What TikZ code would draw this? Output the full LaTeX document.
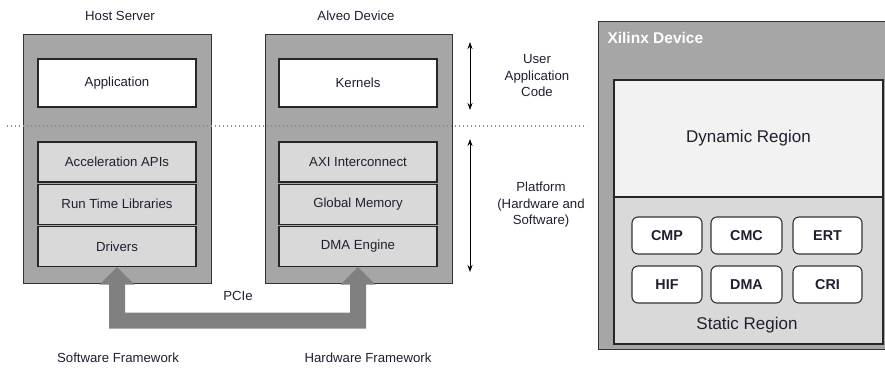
\documentclass[tikz,border=0pt]{standalone}
\usepackage{fontspec}
\setmainfont{Liberation Sans}
\usetikzlibrary{arrows.meta,calc}
\definecolor{outerg}{HTML}{A6A6A6}
\definecolor{innerg}{HTML}{D9D9D9}
\definecolor{dyng}{HTML}{F2F2F2}
\definecolor{pcieg}{HTML}{808080}
\definecolor{txt}{HTML}{1E2030}
\tikzset{
  outerbox/.style={draw=black!80, line width=1pt, fill=outerg, minimum width=188pt, minimum height=249pt, inner sep=0pt},
  topbox/.style={draw=black!85, line width=1.2pt, fill=white, minimum width=158pt, minimum height=48pt, inner sep=0pt, font=\fontsize{13.2}{15}\selectfont, text=txt},
  layerbox/.style={draw=black!85, line width=1.2pt, fill=innerg, minimum width=158pt, minimum height=40pt, inner sep=0pt, font=\fontsize{13.2}{15}\selectfont, text=txt},
  lbl/.style={font=\fontsize{13.2}{16.5}\selectfont, text=txt, align=center},
  ipbox/.style={draw=black!80, line width=1.1pt, fill=white, rounded corners=6pt, minimum width=70pt, minimum height=37pt, inner sep=0pt, font=\bfseries\fontsize{14.3}{16}\selectfont, text=txt},
  vline/.style={line width=1pt, {Stealth[length=7pt,width=5pt]}-{Stealth[length=7pt,width=5pt]}},
}
\begin{document}
\begin{tikzpicture}[x=1pt,y=-1pt]
\useasboundingbox (0,0) rectangle (885,367);
\clip (0,0) rectangle (885,367);
% labels
\node[lbl] (hostlbl) at (120,16) {Host Server};
\node[lbl] (alveolbl) at (356,16) {Alveo Device};
% host server
\node[outerbox] (host) at (117,158.5) {};
\node[topbox] (app) at (117,83) {Application};
\node[layerbox] (acc) at (117,162) {Acceleration APIs};
\node[layerbox] (rtl) at (117,204.25) {Run Time Libraries};
\node[layerbox] (drv) at (117,246.5) {Drivers};
% alveo
\node[outerbox, minimum width=187pt] (alveo) at (358.5,158.5) {};
\node[topbox] (kern) at (358,83) {Kernels};
\node[layerbox] (axi) at (358,162) {AXI Interconnect};
\node[layerbox] (gmem) at (358,204.25) {Global Memory};
\node[layerbox] (dma) at (358,246.5) {DMA Engine};
% dotted separator
\coordinate (dl) at (7,126);
\coordinate (dr) at (587,126);
\draw[black!45, line width=1.2pt, dash pattern=on 1.2pt off 2.8pt] (dl) -- (dr);
% vertical arrows
\coordinate (a1t) at (470,42);
\coordinate (a1b) at (470,110);
\coordinate (a2t) at (470,139);
\coordinate (a2b) at (470,272);
\draw[vline] (a1t) -- (a1b);
\draw[vline] (a2t) -- (a2b);
\node[lbl] (uac) at (537,76) {User\\Application\\Code};
\node[lbl] (plat) at (541,205) {Platform\\(Hardware and\\Software)};
% PCIe arrow
\fill[pcieg] ($(drv.south)+(0,0)$) -- ++(17.5,17.5) -- ++(-9.5,0) -- ++(0,28) -- ($(dma.south)+(-8,45.5)$) -- ++(0,-28) -- ++(-9.5,0) -- (dma.south) -- ++(17.5,17.5) -- ++(-9.5,0) -- ++(0,44) -- ($(drv.south)+(-8,61.5)$) -- ++(0,-44) -- ++(-9.5,0) -- cycle;
\node[lbl] (pcie) at (238,296) {PCIe};
\node[lbl] (swf) at (118,358) {Software Framework};
\node[lbl] (hwf) at (368,358) {Hardware Framework};
% Xilinx device
\draw[black!80, line width=1pt, fill=outerg] (598,21) rectangle (900,349);
\node[anchor=west, text=white, font=\bfseries\fontsize{15.5}{17}\selectfont] (xil) at (604,37.5) {Xilinx Device};
\node[draw=black!85, line width=1.1pt, fill=dyng, minimum width=269pt, minimum height=117pt, inner sep=0pt, font=\fontsize{17}{19}\selectfont, text=txt] (dyn) at (748.5,138.5) {Dynamic Region};
\node[draw=black!85, line width=1.1pt, fill=innerg, minimum width=269pt, minimum height=147pt, inner sep=0pt] (stat) at (748.5,270.5) {};
\node[font=\fontsize{17}{19}\selectfont, text=txt] (statlbl) at (747,325) {Static Region};
\node[ipbox] (cmp) at (667,235.5) {CMP};
\node[ipbox, minimum width=71pt] (cmc) at (746.5,235.5) {CMC};
\node[ipbox, minimum width=69pt] (ert) at (827.5,235.5) {ERT};
\node[ipbox] (hif) at (667,284.5) {HIF};
\node[ipbox, minimum width=71pt] (dmab) at (746.5,284.5) {DMA};
\node[ipbox, minimum width=69pt] (cri) at (827.5,284.5) {CRI};
\end{tikzpicture}
\end{document}
